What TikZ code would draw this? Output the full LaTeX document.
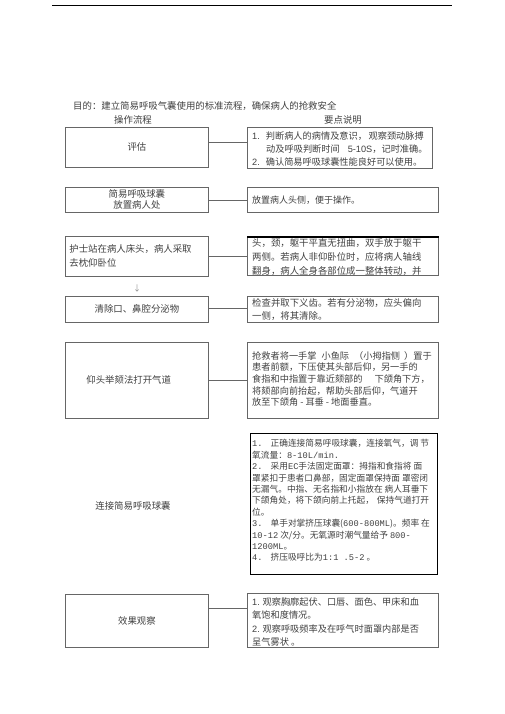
\documentclass[tikz,border=0pt]{standalone}
\usepackage{fontspec}
\setmainfont{Liberation Serif}
\newfontfamily\cjk{Noto Sans CJK SC}
\newfontfamily\arialf{Liberation Sans}
\newfontfamily\courf{Liberation Mono}
\definecolor{txtgray}{gray}{0.25}
\definecolor{boxgray}{gray}{0.4}
\tikzset{
  lbox/.style={draw=boxgray, line width=0.8pt, anchor=north west, minimum width=143pt,
    inner sep=0pt, text=txtgray, align=center, font={\cjk\fontsize{9.4}{11}\selectfont}},
  rbox/.style={draw=boxgray, line width=0.8pt, anchor=north west, inner sep=0pt},
  rtext/.style={anchor=west, inner sep=0pt, text=txtgray, align=left},
  plain/.style={inner sep=0pt, text=txtgray, font={\cjk\fontsize{9.4}{11}\selectfont}},
  link/.style={draw=boxgray, line width=0.8pt}
}
\begin{document}
\begin{tikzpicture}[x=1pt,y=-1pt]
\useasboundingbox (0,0) rectangle (505,714);
\draw[line width=1pt] (52,6) -- (452,6);

\node[plain, anchor=west] (goal) at (73,106) {目的：建立简易呼吸气囊使用的标准流程，确保病人的抢救安全};
\node[plain] (hl) at (133,120) {操作流程};
\node[plain] (hr) at (343,120) {要点说明};

% left column
\node[lbox, minimum height=40pt] (l1) at (65,127) {评估};
\node[lbox, minimum height=25pt] (l2) at (65,187) {简易呼吸球囊\\放置病人处};
\node[lbox, minimum height=40pt, text width=135pt, inner xsep=4pt, align=left,
      font={\cjk\fontsize{9.4}{14}\selectfont}] (l3) at (65,236) {护士站在病人床头，病人采取\\去枕仰卧位};
\node[plain, font={\cjk\fontsize{8}{8}\selectfont}, text=black!45] (arr) at (137,288) {↓};
\node[lbox, minimum height=26pt] (l4) at (65,296) {清除口、鼻腔分泌物};
\node[lbox, minimum height=76pt, text width=101pt, inner xsep=21pt, align=left] (l5) at (65,342) {仰头举颏法打开气道};
\node[plain] (l6) at (133,506) {连接简易呼吸球囊};
\node[lbox, minimum height=53pt] (l7) at (65,594) {效果观察};

% right column: boxes
\node[rbox, minimum width=185pt, minimum height=41pt] (r1) at (247,127) {};
\node[rbox, minimum width=191pt, minimum height=25pt] (r2) at (247,187) {};
\node[rbox, minimum width=191pt, minimum height=38pt] (r3) at (247,237) {};
\node[rbox, minimum width=191pt, minimum height=26pt] (r4) at (247,296) {};
\node[rbox, minimum width=191pt, minimum height=76pt] (r5) at (247,342) {};
\node[rbox, draw=black, line width=1pt, minimum width=187pt, minimum height=141pt] (r6) at (250,433) {};
\node[rbox, minimum width=191pt, minimum height=54pt] (r7) at (247,593) {};
\draw[line width=1.4pt] (r3.north west) -- (r3.north east);

% right column: texts
\node[rtext, font={\cjk\fontsize{9.2}{13.3}\selectfont}] (t1) at ([xshift=5pt,yshift=-1pt]r1.west)
  {{\arialf 1.}\hspace{6pt}判断病人的病情及意识，\,观察颈动脉搏\\
   \hspace{14pt}动及呼吸判断时间\hspace{8pt}{\arialf 5-10S}，记时准确。\\
   {\arialf 2.}\hspace{6pt}确认简易呼吸球囊性能良好可以使用。};
\node[rtext, font={\cjk\fontsize{9}{13}\selectfont}] (t2) at ([xshift=5pt]r2.west) {放置病人头侧，便于操作。};
\begin{scope}
  \clip (r3.north west) rectangle (r3.south east);
  \node[rtext, anchor=north west, font={\cjk\fontsize{9.4}{14}\selectfont}] (t3) at ([xshift=5pt,yshift=-1.3pt]r3.north west)
   {头，颈，躯干平直无扭曲，双手放于躯干\\两侧。若病人非仰卧位时，应将病人轴线\\翻身，病人全身各部位成一整体转动，并};
\end{scope}
\node[rtext, font={\cjk\fontsize{9.4}{12.5}\selectfont}] (t4) at ([xshift=5pt]r4.west)
  {检查并取下义齿。若有分泌物，应头偏向\\一侧，将其清除。};
\node[rtext, font={\cjk\fontsize{9.2}{11.7}\selectfont}] (t5) at ([xshift=5pt,yshift=1.5pt]r5.west)
  {抢救者将一手掌\hspace{5pt}小鱼际\hspace{5pt}（小拇指侧\hspace{4pt}）置于\\
   患者前额，下压使其头部后仰，另一手的\\
   食指和中指置于靠近颏部的\hspace{12pt}下颌角下方，\\
   将颏部向前抬起，帮助头部后仰，气道开\\
   放至下颌角 - 耳垂 - 地面垂直。};
\node[rtext, font={\cjk\fontsize{8.7}{11.4}\selectfont}] (t6) at ([xshift=2pt,yshift=3.5pt]r6.west)
  {{\courf 1.}\hspace{8pt}正确连接简易呼吸球囊，连接氧气，调 节\\
   氧流量：{\courf 8-10L/min.}\\
   {\courf 2.}\hspace{8pt}采用{\courf EC}手法固定面罩：拇指和食指将 面\\
   罩紧扣于患者口鼻部，固定面罩保持面 罩密闭\\
   无漏气。中指、无名指和小指放在 病人耳垂下\\
   下颌角处，将下颌向前上托起，\hspace{3pt}保持气道打开\\
   位。\\
   {\courf 3.}\hspace{8pt}单手对掌挤压球囊({\courf 600-800ML})。频率 在\\
   {\courf 10-12} 次/分。无氧源时潮气量给予 {\courf 800-}\\
   {\courf 1200ML}。\\
   {\courf 4.}\hspace{8pt}挤压吸呼比为{\courf 1:1 .5-2} 。};
\begin{scope}
  \clip (r7.north west) rectangle (r7.south east);
  \node[rtext, anchor=north west, font={\cjk\fontsize{9.2}{13.5}\selectfont}] (t7) at ([xshift=5pt,yshift=-4.4pt]r7.north west)
   {{\arialf 1.} 观察胸廓起伏、口唇、面色、甲床和血\\
    氧饱和度情况。\\
    {\arialf 2.} 观察呼吸频率及在呼气时面罩内部是否\\
    呈气雾状 。};
\end{scope}

% connectors
\draw[link] ([yshift=5pt]l1.east) -- ([yshift=5pt]l1.east -| r1.west);
\draw[link] (l2.east) -- (l2.east -| r2.west);
\draw[link] (l3.east) -- (l3.east -| r3.west);
\draw[link] ([yshift=1pt]l4.east) -- ([yshift=1pt]l4.east -| r4.west);
\draw[link] (l5.east) -- (l5.east -| r5.west);
\draw[link] ([yshift=12.5pt]l7.east) -- ([yshift=12.5pt]l7.east -| r7.west);
\end{tikzpicture}
\end{document}
